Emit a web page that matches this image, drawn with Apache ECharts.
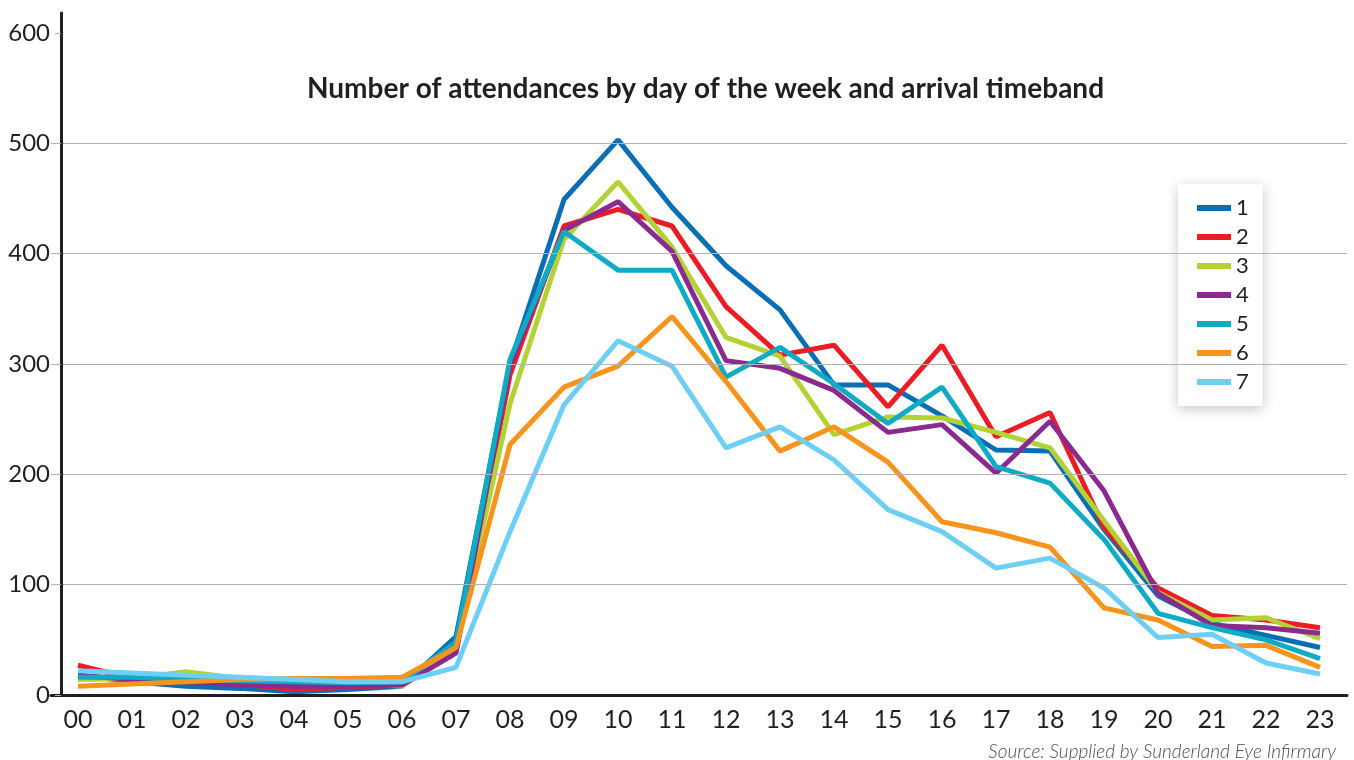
<!DOCTYPE html>
<html lang="en">

<head>
    <meta charset="UTF-8">
    <title>Attendances by day and arrival timeband</title>
    <script src="https://cdn.jsdelivr.net/npm/echarts@6.0.0/dist/echarts.min.js"></script>
    <style>
        html, body {
            margin: 0;
            padding: 0;
            background: #ffffff;
        }

        #chart {
            width: 1354px;
            height: 760px;
        }
    </style>
</head>

<body>
    <div id="chart"></div>
    <script>
        // arrival timebands
        const hours = ['00', '01', '02', '03', '04', '05', '06', '07', '08', '09', '10', '11',
            '12', '13', '14', '15', '16', '17', '18', '19', '20', '21', '22', '23'];

        // attendances per day of week (1..7)
        const day1 = [18, 12, 8, 6, 3, 5, 8, 53, 300, 449, 503, 442, 389, 349, 281, 281, 253, 222, 221, 150, 90, 65, 54, 43];
        const day2 = [27, 15, 12, 10, 5, 7, 9, 40, 290, 425, 440, 425, 352, 308, 317, 261, 317, 234, 256, 152, 97, 72, 68, 61];
        const day3 = [14, 15, 21, 15, 12, 12, 8, 42, 264, 413, 465, 406, 324, 307, 236, 252, 251, 238, 224, 158, 93, 68, 70, 51];
        const day4 = [18, 14, 12, 9, 8, 8, 9, 38, 299, 421, 447, 402, 303, 296, 276, 238, 245, 201, 248, 185, 92, 63, 61, 56];
        const day5 = [16, 16, 14, 13, 12, 11, 12, 48, 304, 420, 385, 385, 288, 315, 282, 246, 279, 207, 192, 141, 74, 61, 50, 33];
        const day6 = [8, 10, 12, 14, 15, 15, 16, 43, 227, 279, 298, 343, 284, 221, 243, 211, 157, 147, 134, 79, 68, 44, 45, 25];
        const day7 = [22, 20, 18, 16, 14, 12, 12, 25, 148, 263, 321, 298, 224, 243, 213, 168, 148, 115, 124, 97, 52, 55, 29, 19];

        const dayNames = ['1', '2', '3', '4', '5', '6', '7'];
        const dayColors = ['#0a6eb4', '#ec1c24', '#b2d235', '#8b2a8e', '#0dabc4', '#f7941d', '#6dcff6'];
        const yTicks = [0, 100, 200, 300, 400, 500, 600];

        const ink = '#231f20';
        const font = 'Lato, "Open Sans", sans-serif';

        const chart = echarts.init(document.getElementById('chart'));

        const option = {
            backgroundColor: '#ffffff',
            animation: false,
            color: dayColors,
            textStyle: { fontFamily: font },
            title: [
                {
                    text: 'Number of attendances by day of the week and arrival timeband',
                    left: 302,
                    top: 70,
                    textStyle: { fontFamily: font, fontSize: 28, fontWeight: 'bold', color: ink }
                },
                {
                    text: 'Source: Supplied by Sunderland Eye Infirmary',
                    right: 13,
                    top: 737,
                    textStyle: { fontFamily: font, fontSize: 19, fontStyle: 'italic', fontWeight: 300, color: '#4d4d4d' }
                }
            ],
            legend: {
                orient: 'vertical',
                left: 1178,
                top: 184,
                padding: [13, 14, 13, 19],
                itemGap: 7,
                itemWidth: 34,
                itemHeight: 6,
                icon: 'rect',
                backgroundColor: '#ffffff',
                shadowBlur: 12,
                shadowColor: 'rgba(0,0,0,0.22)',
                shadowOffsetY: 3,
                textStyle: { fontFamily: font, fontSize: 22, color: ink, lineHeight: 22, padding: [0, 0, 0, 0] },
                data: dayNames
            },
            grid: {
                left: 51,
                right: 7,
                top: 13,
                bottom: 65,
                containLabel: false
            },
            xAxis: {
                type: 'category',
                data: hours,
                boundaryGap: true,
                axisLine: { lineStyle: { color: ink, width: 3 } },
                axisTick: { length: 10, lineStyle: { color: ink, width: 2 } },
                axisLabel: { fontFamily: font, fontSize: 25, color: ink, margin: 12 },
                splitLine: { show: false },
                z: 5
            },
            yAxis: {
                type: 'value',
                min: 0,
                max: 618,
                interval: 100,
                offset: -10,
                axisLine: { show: true, lineStyle: { color: ink, width: 3 } },
                axisTick: { show: true, length: 6, customValues: yTicks, lineStyle: { color: '#b3b3b3', width: 1 } },
                axisLabel: { fontFamily: font, fontSize: 24, color: ink, margin: 11, customValues: yTicks },
                splitLine: { showMaxLine: false, lineStyle: { color: '#b3b3b3', width: 1 } },
                z: 5
            },
            series: [day1, day2, day3, day4, day5, day6, day7].map((vals, i) => ({
                name: dayNames[i],
                type: 'line',
                data: vals,
                symbol: 'none',
                lineStyle: { width: 5, color: dayColors[i] },
                itemStyle: { color: dayColors[i] }
            }))
        };

        chart.setOption(option);
    </script>
</body>

</html>
